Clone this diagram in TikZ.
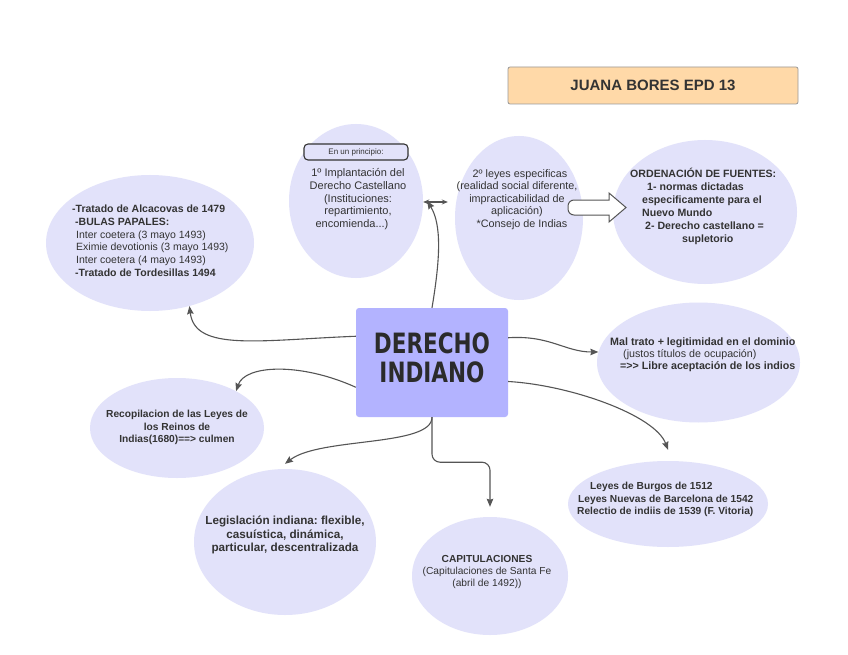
\documentclass[tikz,border=0pt]{standalone}
\usepackage{fontspec}
\setmainfont{Liberation Sans}
\newfontfamily\markfont{DejaVu Sans}
\usetikzlibrary{arrows.meta,shapes.geometric,calc}
\definecolor{ellfill}{RGB}{226,226,250}
\definecolor{boxfill}{RGB}{179,179,255}
\definecolor{titlefill}{RGB}{255,217,168}
\definecolor{txt}{RGB}{51,51,51}
\definecolor{conn}{RGB}{85,85,85}
\begin{document}
\frenchspacing
\begin{tikzpicture}[x=1pt,y=-1pt,
  bubble/.style={ellipse, fill=ellfill, draw=none, inner sep=0pt},
  lbl/.style={inner sep=0pt, text=txt, font=\fontsize{10.6}{12.8}\selectfont},
  connline/.style={draw=conn, line width=1.1pt, -{Stealth[length=8pt,width=6.5pt,inset=1pt]}},
]
\useasboundingbox[fill=white] (0,0) rectangle (848,655);

% title
\node[fill=titlefill, draw=black!40, line width=0.8pt, rounded corners=2pt,
      minimum width=290pt, minimum height=37pt, inner sep=0pt, text=txt,
      font=\fontsize{15}{17}\selectfont\bfseries] (title) at (653,85.5) {JUANA BORES EPD 13};

% ellipses
\node[bubble, minimum width=208pt, minimum height=136pt] (e1) at (150,243) {};
\node[bubble, minimum width=134pt, minimum height=154pt] (e2) at (356,201) {};
\node[bubble, minimum width=128pt, minimum height=164pt] (e3) at (519,218) {};
\node[bubble, minimum width=184pt, minimum height=144pt] (e4) at (705,212) {};
\node[bubble, minimum width=203pt, minimum height=120pt] (e5) at (698.5,362.5) {};
\node[bubble, minimum width=174pt, minimum height=100pt] (e6) at (177,428) {};
\node[bubble, minimum width=200pt, minimum height=86pt] (e7) at (668,504) {};
\node[bubble, minimum width=182pt, minimum height=146pt] (e8) at (285,542) {};
\node[bubble, minimum width=156pt, minimum height=118pt] (e9) at (490,576) {};

% central box
\node[fill=boxfill, rounded corners=3pt, minimum width=152pt, minimum height=109pt, inner sep=0pt] (box) at (432,362.5) {};
\node[inner sep=0pt, text=txt!85!black, align=center, font=\markfont\fontsize{28}{29}\selectfont\bfseries] (bt) at (432,358)
  {\scalebox{0.77}[1]{DERECHO}\\\scalebox{0.77}[1]{INDIANO}};

% texts
\node[lbl, anchor=north west, align=left, font=\fontsize{10.5}{12.7}\selectfont] (t1) at (72,205) {%
\textbf{-Tratado de Alcacovas de 1479}\\
\hspace*{3pt}\textbf{-BULAS PAPALES:}\\
\hspace*{4pt}Inter coetera (3 mayo 1493)\\
\hspace*{4pt}Eximie devotionis (3 mayo 1493)\\
\hspace*{4pt}Inter coetera (4 mayo 1493)\\
\hspace*{3pt}\textbf{-Tratado de Tordesillas 1494}};

\node[fill=ellfill, draw=txt, line width=1.1pt, rounded corners=4pt, minimum width=104pt,
      minimum height=16pt, inner sep=0pt, text=txt, font=\fontsize{8}{9}\selectfont] (prin) at (356,152) {En un principio:};

\node[lbl, anchor=north, align=center, font=\fontsize{11}{12.9}\selectfont] (t2) at (358,168) {%
1º Implantación del\\Derecho Castellano\\(Instituciones:\\repartimiento,\\encomienda...)\hspace*{12pt}};

\node[lbl, anchor=north, align=center, font=\fontsize{10.8}{12.5}\selectfont] (t3) at (517,169) {%
\hspace*{6pt}2º leyes especificas\\(realidad social diferente,\\impracticabilidad de\\aplicación)\\\hspace*{10pt}*Consejo de Indias};

\node[lbl, anchor=north west, align=left, font=\fontsize{10.6}{13}\selectfont\bfseries] (t4) at (630,168) {%
ORDENACIÓN DE FUENTES:\\
\hspace*{17pt}1- normas dictadas\\
\hspace*{12pt}especificamente para el\\
\hspace*{12pt}Nuevo Mundo\\
\hspace*{15pt}2- Derecho castellano =\\
\hspace*{52pt}supletorio};

\node[lbl, anchor=north west, align=left, font=\fontsize{10.7}{12}\selectfont] (t5) at (610,338) {%
\textbf{Mal trato + legitimidad en el dominio}\\
\hspace*{13pt}(justos títulos de ocupación)\\
\hspace*{10pt}\textbf{=>{}> Libre aceptación de los indios}};

\node[lbl, anchor=north, align=center, font=\fontsize{10.2}{12.5}\selectfont\bfseries] (t6) at (177,410) {%
Recopilacion de las Leyes de\\los Reinos de\\Indias(1680)==> culmen};

\node[lbl, anchor=north west, align=left, font=\fontsize{10.2}{12.5}\selectfont\bfseries] (t7) at (577,482) {%
\hspace*{13pt}Leyes de Burgos de 1512\\
\hspace*{1pt}Leyes Nuevas de Barcelona de 1542\\
Relectio de indiis de 1539 (F. Vitoria)};

\node[lbl, anchor=north, align=center, font=\fontsize{11.7}{13.5}\selectfont\bfseries] (t8) at (285,516) {%
Legislación indiana: flexible,\\casuística, dinámica,\\particular, descentralizada};

\node[lbl, anchor=north, align=center, font=\fontsize{10.2}{12}\selectfont] (t9) at (487,555) {%
\textbf{CAPITULACIONES}\\(Capitulaciones de Santa Fe\\(abril de 1492))};

% connectors
\draw[connline] (box.north) .. controls (440,260) and (442,225) .. ([xshift=4pt]e2.east);
\draw[draw=conn, line width=1.1pt, {Stealth[length=6pt,width=5pt]}-{Stealth[length=6pt,width=5pt]}, shorten >=7pt]
  ([yshift=-1pt]e2.east) -- ([yshift=-1pt]e2.east -| e3.west);
\draw[connline] (box.161.5) .. controls (260,340) and (195,352) .. (e1.-58);
\draw[connline] (box.198) .. controls (300,362) and (245,365) .. (e6.32);
\draw[connline] (box.south) .. controls (432,447) and (320,437) .. ([yshift=5pt]e8.north);
\draw[connline, rounded corners=8pt] (box.south) -- ++(0,45) -| ([yshift=10pt]e9.north);
\draw[connline] (box.18.5) .. controls (550,335) and (565,352) .. (e5.174);
\draw[connline] (box.-14) .. controls (570,385) and (655,415) .. ([yshift=11pt]e7.north);

% block arrow
\draw[draw=conn, fill=white, line width=1pt]
  (609,200) -- (609,193) -- (626,207.5) -- (609,222) -- (609,215)
  [rounded corners=6pt] -- (568,215) -- (568,200) [sharp corners] -- cycle;
\end{tikzpicture}
\end{document}
